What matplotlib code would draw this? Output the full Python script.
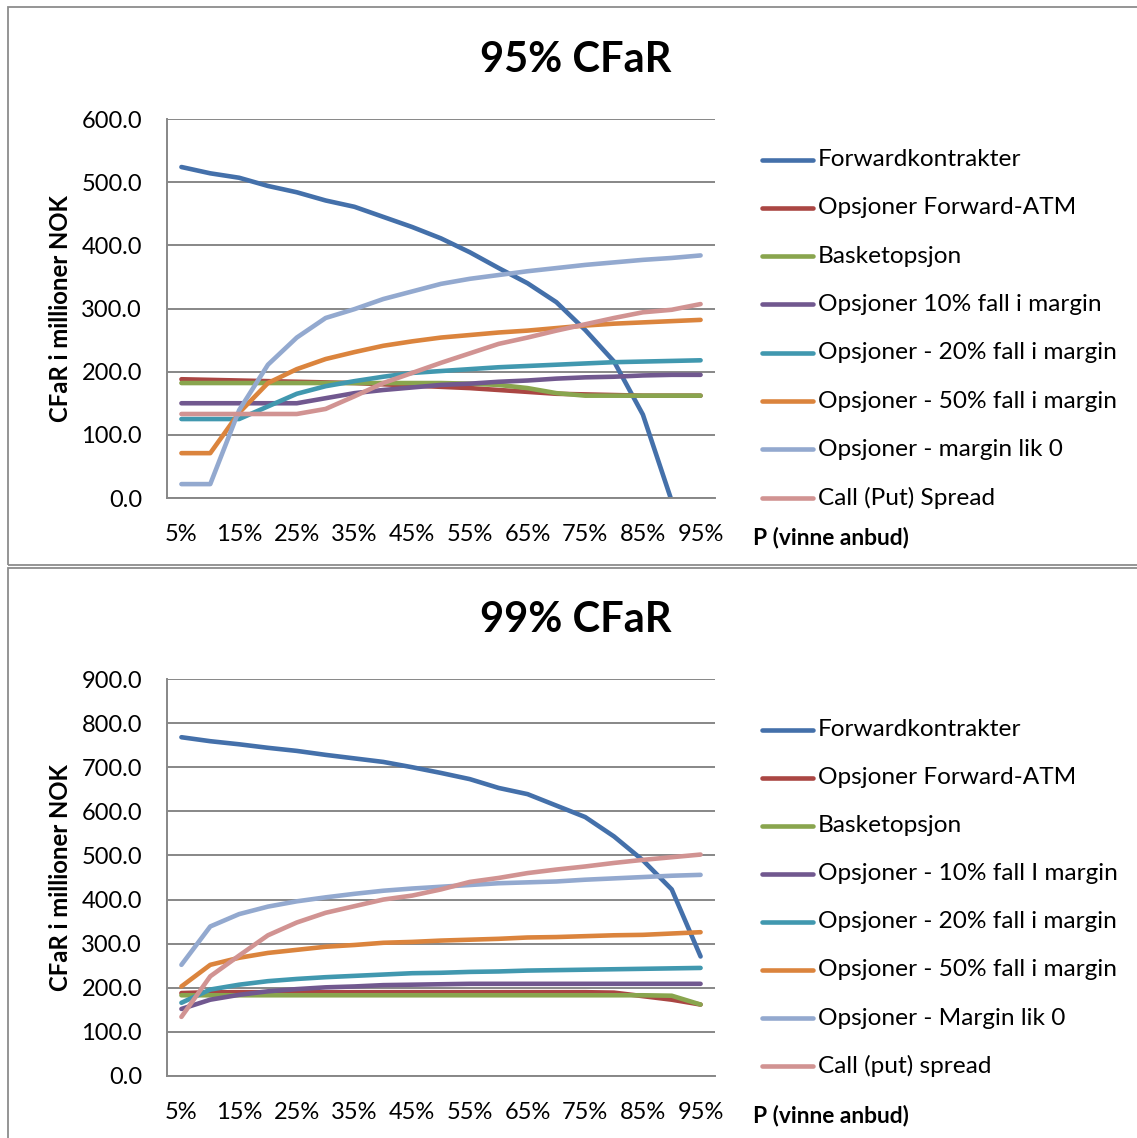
import matplotlib
matplotlib.use("Agg")
import matplotlib.pyplot as plt
from matplotlib.lines import Line2D
from matplotlib.patches import Rectangle

# ---------------------------------------------------------------- data
categories = ["5%", "10%", "15%", "20%", "25%", "30%", "35%", "40%", "45%", "50%",
              "55%", "60%", "65%", "70%", "75%", "80%", "85%", "90%", "95%"]
tick_labels = ["5%", "15%", "25%", "35%", "45%", "55%", "65%", "75%", "85%", "95%"]

# 95% CFaR (million NOK)
cfar95_forward = [524, 514, 507, 494, 484, 471, 461, 445, 429, 411,
                  389, 364, 340, 310, 266, 216, 132, -5, -150]
cfar95_atm = [188, 187, 186, 185, 184, 183, 182, 180, 178, 176,
              174, 171, 168, 165, 164, 163, 162, 162, 162]
cfar95_basket = [182, 182, 182, 182, 182, 182, 182, 182, 182, 182,
                 181, 179, 174, 166, 162, 162, 162, 162, 162]
cfar95_fall10 = [150, 150, 150, 150, 150, 158, 166, 171, 175, 179,
                 181, 184, 186, 189, 191, 192, 194, 195, 195]
cfar95_fall20 = [125, 125, 125, 145, 165, 177, 185, 192, 198, 201,
                 204, 207, 209, 211, 213, 215, 216, 217, 218]
cfar95_fall50 = [71, 71, 135, 182, 204, 220, 231, 241, 248, 254,
                 258, 262, 265, 269, 273, 276, 278, 280, 282]
cfar95_margin0 = [22, 22, 139, 211, 254, 285, 299, 315, 327, 339,
                  347, 353, 359, 364, 369, 373, 377, 380, 384]
cfar95_spread = [133, 133, 133, 133, 133, 141, 161, 182, 198, 214,
                 229, 244, 254, 265, 275, 285, 294, 298, 307]

# 99% CFaR (million NOK)
cfar99_forward = [768, 759, 752, 744, 737, 728, 720, 712, 700, 687,
                  673, 653, 639, 613, 587, 543, 489, 423, 271]
cfar99_atm = [188, 190, 190, 190, 190, 190, 190, 190, 190, 190,
              190, 190, 190, 190, 190, 189, 181, 173, 162]
cfar99_basket = [183, 183, 183, 183, 183, 183, 183, 183, 183, 183,
                 183, 183, 183, 183, 183, 183, 183, 182, 162]
cfar99_fall10 = [152, 173, 184, 192, 197, 201, 203, 206, 207, 208,
                 209, 209, 209, 209, 209, 209, 209, 209, 209]
cfar99_fall20 = [166, 196, 207, 215, 220, 224, 227, 230, 233, 234,
                 236, 237, 239, 240, 241, 242, 243, 244, 245]
cfar99_fall50 = [203, 252, 268, 279, 286, 293, 297, 302, 304, 307,
                 309, 311, 314, 315, 317, 319, 320, 323, 326]
cfar99_margin0 = [252, 339, 367, 384, 396, 405, 413, 420, 425, 429,
                  433, 437, 439, 441, 445, 448, 451, 454, 456]
cfar99_spread = [134, 226, 273, 319, 348, 370, 385, 400, 409, 423,
                 440, 449, 460, 468, 475, 483, 490, 496, 502]

labels95 = ["Forwardkontrakter", "Opsjoner Forward-ATM", "Basketopsjon",
            "Opsjoner 10% fall i margin", "Opsjoner - 20% fall i margin",
            "Opsjoner - 50% fall i margin", "Opsjoner - margin lik 0",
            "Call (Put) Spread"]
labels99 = ["Forwardkontrakter", "Opsjoner Forward-ATM", "Basketopsjon",
            "Opsjoner - 10% fall I margin", "Opsjoner - 20% fall i margin",
            "Opsjoner - 50% fall i margin", "Opsjoner - Margin lik 0",
            "Call (put) spread"]

colors = ["#4470AA", "#AA4643", "#89A54E", "#71588F",
          "#4198AF", "#DB843D", "#93A9CF", "#D19392"]

# ---------------------------------------------------------------- layout
W, H = 1137, 1138
DPI = 100
FONT = "Lato"
GRID = "#878787"
plt.rcParams["font.family"] = [FONT, "DejaVu Sans"]

fig = plt.figure(figsize=(W / DPI, H / DPI), dpi=DPI)
fig.patch.set_facecolor("white")


def fx(px):
    return px / W


def fy(py):
    return 1 - py / H


def draw_panel(frame, axes_px, title, title_y, series, labels, ymax, ystep,
               legend_y0, legend_dy, xlabel_y):
    # chart frame
    x0, y0, x1, y1 = frame
    fig.add_artist(Rectangle((fx(x0), fy(y1)), fx(x1 - x0), (y1 - y0) / H,
                             transform=fig.transFigure, fill=False,
                             edgecolor="#8C8C8C", linewidth=1.3))

    # plot area
    l, t, r, b = axes_px
    ax = fig.add_axes([fx(l), fy(b), fx(r - l), (b - t) / H])
    idx = list(range(len(categories)))
    for vals, c in zip(series, colors):
        ax.plot(idx, vals, color=c, linewidth=3.3,
                solid_capstyle="round", solid_joinstyle="round")

    ax.set_xlim(-0.5, len(categories) - 0.5)
    ax.set_ylim(0, ymax)
    yt = [ystep * k for k in range(int(ymax / ystep) + 1)]
    ax.set_yticks(yt)
    ax.set_yticklabels([f"{v:.1f}" for v in yt])
    ax.set_xticks([categories.index(s) for s in tick_labels])
    ax.set_xticklabels(tick_labels)
    ax.tick_params(axis="both", length=0, labelsize=17, colors="black")
    ax.tick_params(axis="y", pad=18)
    ax.tick_params(axis="x", pad=19)
    ax.grid(axis="y", color=GRID, linewidth=1.4)
    ax.set_axisbelow(True)
    for s in ("top", "right"):
        ax.spines[s].set_visible(False)
    for s in ("left", "bottom"):
        ax.spines[s].set_color(GRID)
        ax.spines[s].set_linewidth(1.4)

    # titles
    fig.text(fx(576), fy(title_y), title, ha="center", va="center",
             fontsize=30, fontweight="bold")
    fig.text(fx(60), fy((t + b) / 2), "CFaR i millioner NOK", rotation=90,
             ha="center", va="center", fontsize=17.2, fontweight="bold")
    fig.text(fx(753), fy(xlabel_y), "P (vinne anbud)", ha="left",
             va="center", fontsize=16.4, fontweight="bold")

    # legend to the right of the plot area
    for k, (lab, c) in enumerate(zip(labels, colors)):
        yy = fy(legend_y0 + k * legend_dy)
        fig.add_artist(Line2D([fx(762), fx(813)], [yy, yy], color=c,
                              linewidth=3.3, solid_capstyle="round",
                              transform=fig.transFigure))
        fig.text(fx(818), yy, lab, ha="left", va="center", fontsize=17.6)
    return ax


draw_panel((8, 7, 1145, 565), (167, 119, 715, 498), "95% CFaR", 60,
           [cfar95_forward, cfar95_atm, cfar95_basket, cfar95_fall10,
            cfar95_fall20, cfar95_fall50, cfar95_margin0, cfar95_spread],
           labels95, 600, 100, 159.5, 48.3, 538)

draw_panel((8, 568, 1145, 1150), (167, 679, 715, 1076), "99% CFaR", 620,
           [cfar99_forward, cfar99_atm, cfar99_basket, cfar99_fall10,
            cfar99_fall20, cfar99_fall50, cfar99_margin0, cfar99_spread],
           labels99, 900, 100, 729.5, 48.1, 1116)

fig.savefig("out.png", dpi=DPI, facecolor="white")
